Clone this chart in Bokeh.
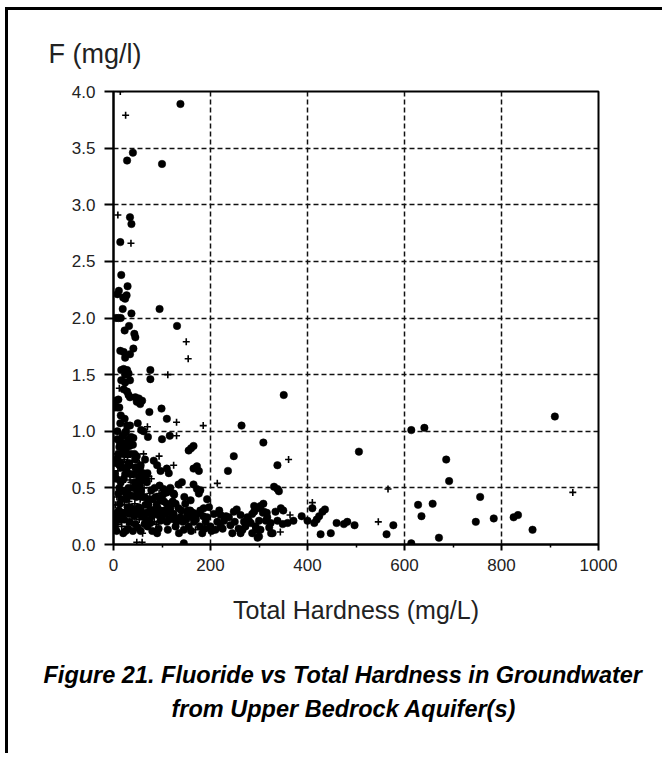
from bokeh.plotting import figure
from bokeh.models import Title, FixedTicker, PrintfTickFormatter, Range1d
from bokeh.embed import file_html
from bokeh.resources import INLINE

# ---------------- data ----------------
x_ticks = [0, 200, 400, 600, 800, 1000]
x_minor = [100, 300, 500, 700, 900]
y_ticks = [0.0, 0.5, 1.0, 1.5, 2.0, 2.5, 3.0, 3.5, 4.0]

# filled-dot samples: (total hardness mg/L, fluoride mg/l)
dot_points = [
    (138, 3.89), (40, 3.46), (28, 3.39), (100, 3.36), (34, 2.89), (37, 2.83),
    (14, 2.67), (16, 2.38), (29, 2.28), (8, 2.21), (11, 2.24), (20, 2.18),
    (24, 2.17), (27, 2.20), (19, 2.08), (95, 2.08), (5, 2.0), (10, 2.0),
    (15, 2.0), (37, 2.04), (32, 1.93), (131, 1.93), (23, 1.89), (43, 1.86),
    (45, 1.83), (41, 1.73), (14, 1.71), (21, 1.70), (34, 1.68), (24, 1.65),
    (21, 1.55), (16, 1.54), (28, 1.54), (76, 1.54), (24, 1.50), (31, 1.51),
    (16, 1.45), (24, 1.43), (76, 1.46), (34, 1.45), (21, 1.37), (28, 1.35),
    (31, 1.32), (34, 1.30), (45, 1.30), (52, 1.29), (59, 1.27), (48, 1.26),
    (55, 1.24), (5, 1.27), (10, 1.28), (3, 1.21), (8, 1.21), (12, 1.21),
    (99, 1.20), (74, 1.17), (15, 1.14), (23, 1.11), (110, 1.11), (14, 1.07),
    (28, 1.05), (50, 1.07), (34, 1.05), (264, 1.05), (57, 1.01), (62, 1.00),
    (24, 0.99), (36, 0.95), (41, 0.94), (31, 0.93), (71, 0.95), (100, 0.93),
    (116, 0.96), (17, 0.90), (12, 0.86), (165, 0.87), (160, 0.85), (155, 0.83),
    (309, 0.90), (24, 0.82), (248, 0.78), (338, 0.70), (351, 1.32),
    (110, 0.67), (114, 0.63), (172, 0.69), (165, 0.67), (176, 0.65), (236, 0.65),
    (83, 0.74), (90, 0.70), (97, 0.65), (70, 0.63), (55, 0.68),
    (141, 0.55), (134, 0.53), (165, 0.53), (172, 0.49), (179, 0.48), (176, 0.45),
    (331, 0.51), (341, 0.47), (338, 0.49), (95, 0.52), (103, 0.49), (110, 0.46),
    (124, 0.45), (146, 0.42), (159, 0.39),
    (506, 0.82), (614, 1.01), (641, 1.03), (910, 1.13), (686, 0.75), (692, 0.56),
    (628, 0.35), (658, 0.36), (635, 0.25), (756, 0.42), (747, 0.20), (784, 0.23),
    (825, 0.24), (834, 0.26), (864, 0.13), (671, 0.06), (614, 0.01), (577, 0.17),
    (563, 0.09), (497, 0.17), (482, 0.20), (475, 0.18), (460, 0.19), (448, 0.10),
    (427, 0.09), (436, 0.31), (431, 0.29), (424, 0.25), (419, 0.22), (414, 0.19),
    (410, 0.32), (400, 0.21), (388, 0.25), (371, 0.21), (359, 0.19), (349, 0.18),
    (338, 0.21), (325, 0.10), (321, 0.15), (297, 0.06), (294, 0.13), (308, 0.28),
    (316, 0.28), (309, 0.36), (290, 0.34), (345, 0.32), (350, 0.30), (334, 0.29),
    (314, 0.21),
    (193, 0.40), (197, 0.33), (186, 0.32), (207, 0.27), (221, 0.26), (228, 0.21),
    (214, 0.20), (238, 0.24), (248, 0.29), (254, 0.31), (262, 0.26), (241, 0.17),
    (245, 0.10), (269, 0.20), (272, 0.16), (279, 0.21), (266, 0.13), (286, 0.27),
    (297, 0.32), (303, 0.34), (310, 0.29), (300, 0.21), (293, 0.16), (300, 0.07),
    (317, 0.24), (324, 0.19), (328, 0.10), (303, 0.13), (286, 0.10),
    (97, 0.39), (110, 0.36), (117, 0.32), (128, 0.36), (134, 0.32), (124, 0.27),
    (107, 0.27), (93, 0.27), (97, 0.21), (110, 0.20), (138, 0.24), (152, 0.27),
    (162, 0.24), (172, 0.27), (166, 0.20), (155, 0.16), (145, 0.13), (128, 0.16),
    (93, 0.14), (76, 0.19), (145, 0.01), (200, 0.16), (193, 0.24), (210, 0.13),
    (221, 0.16), (179, 0.30), (105, 0.30), (115, 0.22), (122, 0.38), (130, 0.20),
    (140, 0.30), (148, 0.36), (150, 0.22), (158, 0.30), (170, 0.22), (178, 0.16),
    (185, 0.25), (190, 0.20), (112, 0.13), (135, 0.10), (160, 0.12), (183, 0.10),
    (125, 0.44), (102, 0.44), (117, 0.50), (202, 0.12), (218, 0.30), (225, 0.14),
    (232, 0.25), (250, 0.20), (258, 0.14), (276, 0.24), (283, 0.19), (290, 0.29),
    (262, 0.10),
    (6, 0.12), (5, 0.25), (11, 0.30), (12, 0.50), (6, 0.58), (5, 0.72),
    (10, 0.80), (13, 0.90), (8, 1.00), (3, 0.15),
    (20, 0.10), (22, 0.22), (18, 0.28), (16, 0.40), (21, 0.47), (24, 0.62),
    (17, 0.68), (18, 0.80), (15, 0.72),
    (30, 0.14), (33, 0.27), (29, 0.33), (26, 0.45), (31, 0.50), (28, 0.64),
    (33, 0.70), (26, 0.85), (35, 0.80),
    (40, 0.12), (43, 0.25), (39, 0.30), (38, 0.43), (42, 0.50), (41, 0.62),
    (45, 0.68), (43, 0.80), (40, 0.88),
    (50, 0.15), (48, 0.28), (52, 0.33), (49, 0.47), (54, 0.52), (51, 0.66),
    (48, 0.78),
    (64, 0.18), (58, 0.25), (66, 0.35), (59, 0.42), (57, 0.56), (61, 0.63),
    (65, 0.75),
    (70, 0.16), (68, 0.28), (72, 0.35), (69, 0.55), (71, 0.40),
    (80, 0.12), (79, 0.25), (81, 0.40), (85, 0.50), (82, 0.30),
    (90, 0.10), (92, 0.26), (89, 0.35), (91, 0.32),
    (3, 0.20), (8, 0.28), (14, 0.22), (13, 0.36), (10, 0.45), (15, 0.55),
    (3, 0.62), (12, 0.70), (8, 0.76), (25, 0.12), (24, 0.28), (27, 0.40),
    (21, 0.58), (27, 0.68), (24, 0.80), (33, 0.20), (35, 0.33), (30, 0.45),
    (36, 0.62), (31, 0.72), (45, 0.18), (46, 0.30), (47, 0.42), (44, 0.55),
    (45, 0.75), (56, 0.12), (55, 0.30), (57, 0.47), (53, 0.60), (56, 0.70),
    (67, 0.22), (64, 0.42), (66, 0.58), (76, 0.30), (78, 0.48), (87, 0.42),
    (96, 0.30), (100, 0.24), (104, 0.38), (119, 0.28), (126, 0.22), (143, 0.20),
    (154, 0.30), (164, 0.28), (188, 0.14), (20, 0.85), (28, 0.90), (33, 0.87),
    (8, 0.93), (19, 0.96), (26, 1.00),
]

# small "+" samples
plus_points = [
    (14, 4.00), (25, 3.79), (9, 2.91), (36, 2.66), (150, 1.79), (154, 1.64),
    (112, 1.50), (12, 1.38), (130, 1.08), (70, 1.04), (185, 1.05), (130, 0.96),
    (94, 0.78), (361, 0.75), (124, 0.70), (214, 0.54), (169, 0.13), (48, 0.02),
    (59, 0.02), (566, 0.49), (947, 0.46), (546, 0.20), (410, 0.37), (364, 0.26),
    (344, 0.11), (9, 0.18), (7, 0.42), (9, 0.65), (6, 0.80), (4, 0.35),
    (17, 0.16), (23, 0.35), (19, 0.55), (22, 0.75), (27, 0.20), (32, 0.38),
    (34, 0.57), (29, 0.77), (37, 0.19), (44, 0.36), (36, 0.55), (39, 0.74),
    (53, 0.22), (55, 0.40), (47, 0.60), (53, 0.72), (60, 0.10), (62, 0.30),
    (63, 0.50), (62, 0.80), (74, 0.22), (75, 0.45), (73, 0.60), (84, 0.20),
    (86, 0.33), (78, 0.58), (88, 0.18), (94, 0.45),
]

dot_hardness = [pt[0] for pt in dot_points]
dot_fluoride = [pt[1] for pt in dot_points]
plus_hardness = [pt[0] for pt in plus_points]
plus_fluoride = [pt[1] for pt in plus_points]

y_title = "F (mg/l)"
x_title = "Total Hardness (mg/L)"
caption_1 = "Figure 21. Fluoride vs Total Hardness in Groundwater"
caption_2 = "from Upper Bedrock Aquifer(s)"

FONT = "Liberation Sans"

p = figure(
    width=657, height=746,
    x_range=Range1d(0, 1000), y_range=Range1d(0, 4),
    output_backend="svg", toolbar_location=None,
    min_border_left=105, min_border_right=67,
    min_border_top=81, min_border_bottom=212,
)
p.margin = (7, 0, 0, 5)
p.styles = {"border-left": "3px solid black", "border-top": "3px solid black"}
p.background_fill_color = "white"
p.border_fill_color = "white"
p.outline_line_color = "black"
p.outline_line_width = 2
p.outline_line_alpha = 1

# axes
p.xaxis.ticker = FixedTicker(ticks=x_ticks, minor_ticks=x_minor)
p.yaxis.ticker = FixedTicker(ticks=y_ticks)
p.xaxis.formatter = PrintfTickFormatter(format="%d")
p.yaxis.formatter = PrintfTickFormatter(format="%.1f")
for ax in (p.xaxis, p.yaxis):
    ax.axis_line_color = "black"
    ax.axis_line_width = 2
    ax.major_tick_line_color = "black"
    ax.major_tick_line_width = 2
    ax.major_tick_in = 0
    ax.major_label_text_font = FONT
    ax.major_label_text_font_size = "17px"
    ax.major_label_text_color = "#222222"
p.xaxis.major_tick_out = 6
p.xaxis.minor_tick_out = 3
p.xaxis.minor_tick_in = 0
p.xaxis.minor_tick_line_color = "black"
p.xaxis.minor_tick_line_width = 1.5
p.xaxis.major_label_standoff = 8
p.yaxis.major_tick_out = 9
p.yaxis.minor_tick_line_color = None
p.yaxis.major_label_standoff = 9

p.xaxis.axis_label = x_title
p.xaxis.axis_label_text_font = FONT
p.xaxis.axis_label_text_font_size = "25px"
p.xaxis.axis_label_text_font_style = "normal"
p.xaxis.axis_label_text_color = "#222222"
p.xaxis.axis_label_standoff = 22

# grid
p.grid.grid_line_color = "#111111"
p.grid.grid_line_dash = "5 3"
p.grid.grid_line_width = 1.5

# points
p.scatter(dot_hardness, dot_fluoride, marker="circle", size=7.5,
          fill_color="black", line_color="black", line_width=0.5)
p.scatter(plus_hardness, plus_fluoride, marker="cross", size=7,
          line_color="black", line_width=1.6)

# y title above the frame
p.add_layout(Title(text=y_title, align="left", offset=-65, vertical_align="bottom",
                   standoff=46, text_font=FONT, text_font_size="27px",
                   text_font_style="normal", text_color="#222222"), "above")

# caption below the x-axis title (a tiny spacer title first)
p.add_layout(Title(text=" ", text_font_size="1px", standoff=30,
                   text_color="white"), "below")
p.add_layout(Title(text=caption_1, align="left", offset=-70, vertical_align="top",
                   standoff=4, text_font=FONT, text_font_size="23.5px",
                   text_font_style="bold italic", text_color="black"), "below")
p.add_layout(Title(text=caption_2, align="left", offset=58, vertical_align="top",
                   standoff=8, text_font=FONT, text_font_size="23.5px",
                   text_font_style="bold italic", text_color="black"), "below")

open("out.html", "w").write(file_html(p, INLINE))
